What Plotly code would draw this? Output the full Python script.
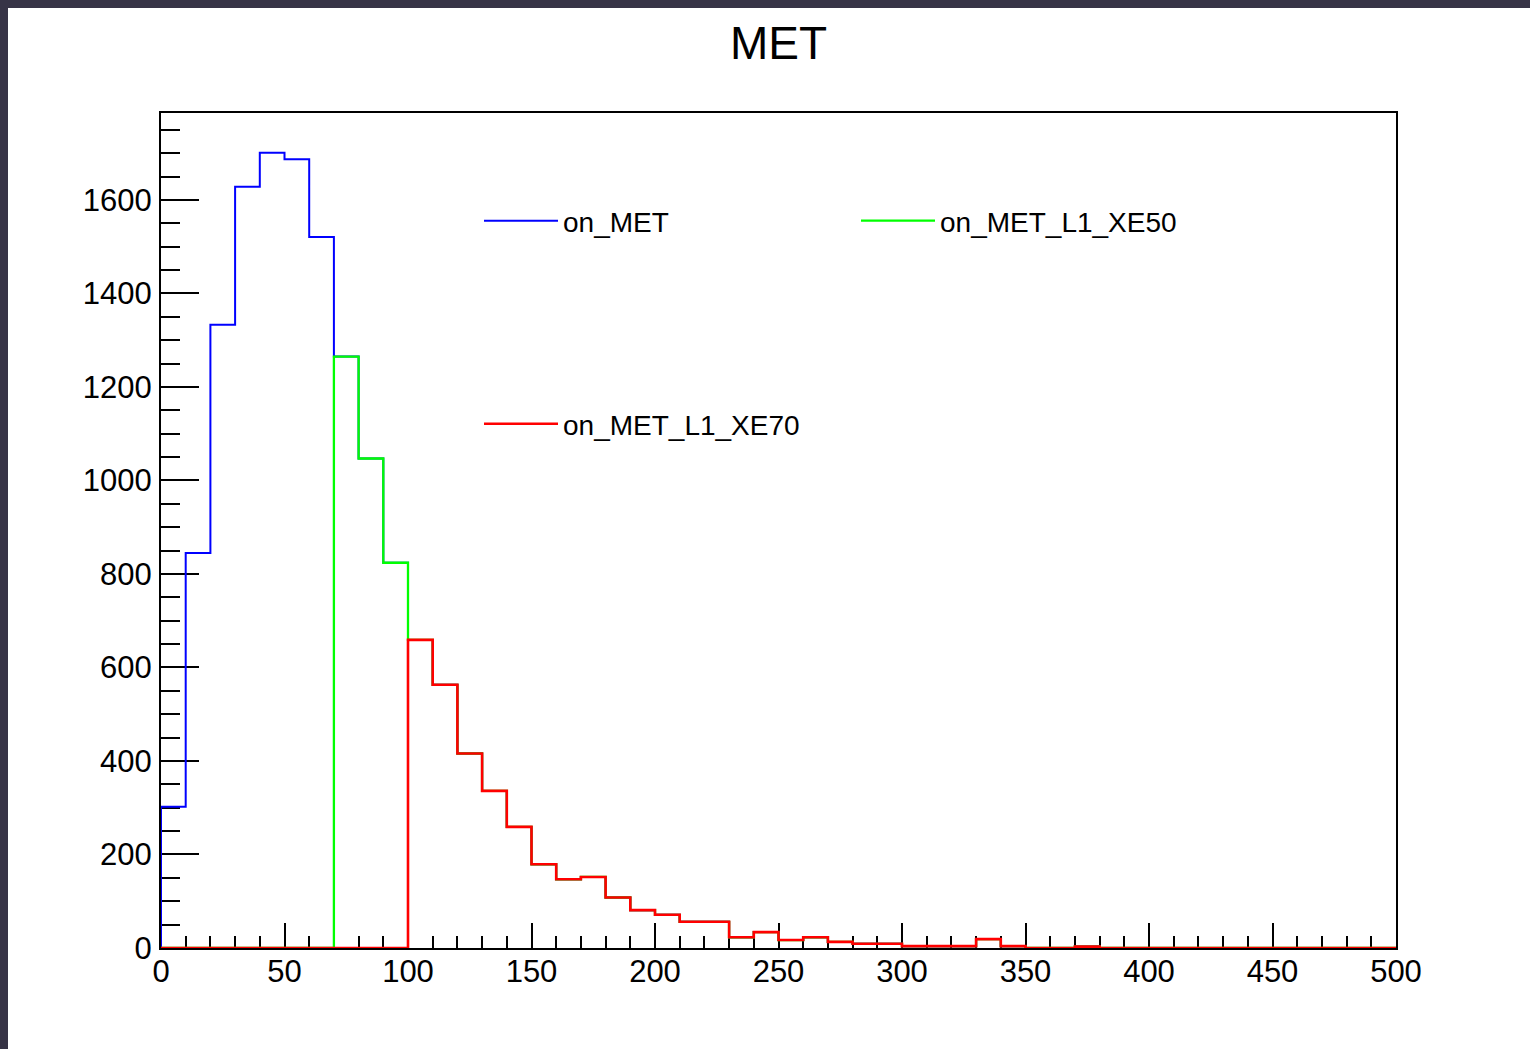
import plotly.graph_objects as go

# ---- data ----
bin_edges = [0, 10, 20, 30, 40, 50, 60, 70, 80, 90, 100, 110, 120, 130, 140, 150,
             160, 170, 180, 190, 200, 210, 220, 230, 240, 250, 260, 270, 280, 290,
             300, 310, 320, 330, 340, 350, 360, 370, 380, 390, 400, 410, 420, 430,
             440, 450, 460, 470, 480, 490, 500]

on_MET = [302, 845, 1333, 1628, 1701, 1687, 1521, 1265, 1047, 824,
          659, 563, 416, 336, 259, 179, 147, 152, 108, 81,
          71, 56, 56, 23, 34, 17, 23, 13, 9, 9,
          4, 4, 4, 19, 4, 0, 0, 3, 0, 0,
          0, 0, 0, 0, 0, 0, 0, 0, 0, 0]

on_MET_L1_XE50 = [0, 0, 0, 0, 0, 0, 0, 1265, 1047, 824,
                  659, 563, 416, 336, 259, 179, 147, 152, 108, 81,
                  71, 56, 56, 23, 34, 17, 23, 13, 9, 9,
                  4, 4, 4, 19, 4, 0, 0, 3, 0, 0,
                  0, 0, 0, 0, 0, 0, 0, 0, 0, 0]

on_MET_L1_XE70 = [0, 0, 0, 0, 0, 0, 0, 0, 0, 0,
                  659, 563, 416, 336, 259, 179, 147, 152, 108, 81,
                  71, 56, 56, 23, 34, 17, 23, 13, 9, 9,
                  4, 4, 4, 19, 4, 0, 0, 3, 0, 0,
                  0, 0, 0, 0, 0, 0, 0, 0, 0, 0]

series_names = ["on_MET", "on_MET_L1_XE50", "on_MET_L1_XE70"]
series_colors = ["#0000ff", "#00ff00", "#ff0000"]
y_tick_values = [0, 200, 400, 600, 800, 1000, 1200, 1400, 1600]
x_tick_values = [0, 50, 100, 150, 200, 250, 300, 350, 400, 450, 500]

FONT = "Liberation Sans, Arial, Helvetica, sans-serif"


def step_outline(edges, values):
    xs = [edges[0]] + list(edges)
    ys = [0] + list(values) + [values[-1]]
    return xs, ys


fig = go.Figure()
all_series = [on_MET, on_MET_L1_XE50, on_MET_L1_XE70]
legend_ids = ["legend", "legend2", "legend3"]
line_widths = [2.0, 2.3, 2.6]
for name, vals, col, lg, lw in zip(series_names, all_series, series_colors,
                                   legend_ids, line_widths):
    xs, ys = step_outline(bin_edges, vals)
    fig.add_trace(go.Scatter(
        x=xs, y=ys, mode="lines", name=name,
        line=dict(color=col, width=lw, shape="hv"),
        legend=lg, showlegend=True, hoverinfo="skip",
    ))

W, H = 1530, 1049
ML, MR, MT, MB = 161, 134, 113, 101
PW, PH = W - ML - MR, H - MT - MB


def px_x(p):
    return (p - ML) / PW


def px_y(p):
    return (H - MB - p) / PH


legend_common = dict(
    bgcolor="rgba(0,0,0,0)", borderwidth=0,
    font=dict(family=FONT, size=28, color="#000000"),
    xanchor="left", yanchor="middle", itemwidth=74,
    tracegroupgap=0,
)

fig.update_layout(
    width=W, height=H,
    margin=dict(l=ML, r=MR, t=MT, b=MB),
    paper_bgcolor="#373446",
    plot_bgcolor="#ffffff",
    font=dict(family=FONT, color="#000000"),
    title=dict(text="MET", x=0.5, xref="paper", xanchor="center",
               y=1 - 43 / H, yanchor="middle",
               font=dict(family=FONT, size=46, color="#000000")),
    legend=dict(x=px_x(479), y=px_y(221), **legend_common),
    legend2=dict(x=px_x(856), y=px_y(221), **legend_common),
    legend3=dict(x=px_x(479), y=px_y(424), **legend_common),
    shapes=[dict(type="rect", xref="paper", yref="paper",
                 x0=px_x(8), x1=px_x(W + 20), y0=px_y(H + 20), y1=px_y(8),
                 fillcolor="#ffffff", line=dict(width=0), layer="below")],
)

fig.update_xaxes(
    range=[0, 500], tickvals=x_tick_values,
    ticks="inside", ticklen=25, tickwidth=2, tickcolor="#000000",
    minor=dict(dtick=10, ticks="inside", ticklen=12, tickwidth=2, tickcolor="#000000"),
    showline=True, linecolor="#000000", linewidth=2, mirror=True,
    showgrid=False, zeroline=False, layer="below traces",
    tickfont=dict(family=FONT, size=31, color="#000000"),
    ticklabelstandoff=-5,
)
fig.update_yaxes(
    range=[0, 1786], tickvals=y_tick_values,
    ticks="inside", ticklen=38, tickwidth=2, tickcolor="#000000",
    minor=dict(dtick=50, ticks="inside", ticklen=19, tickwidth=2, tickcolor="#000000"),
    showline=True, linecolor="#000000", linewidth=2, mirror=True,
    showgrid=False, zeroline=False, layer="below traces",
    tickfont=dict(family=FONT, size=31, color="#000000"),
    ticklabelstandoff=1,
)

fig.write_html("out.html")
